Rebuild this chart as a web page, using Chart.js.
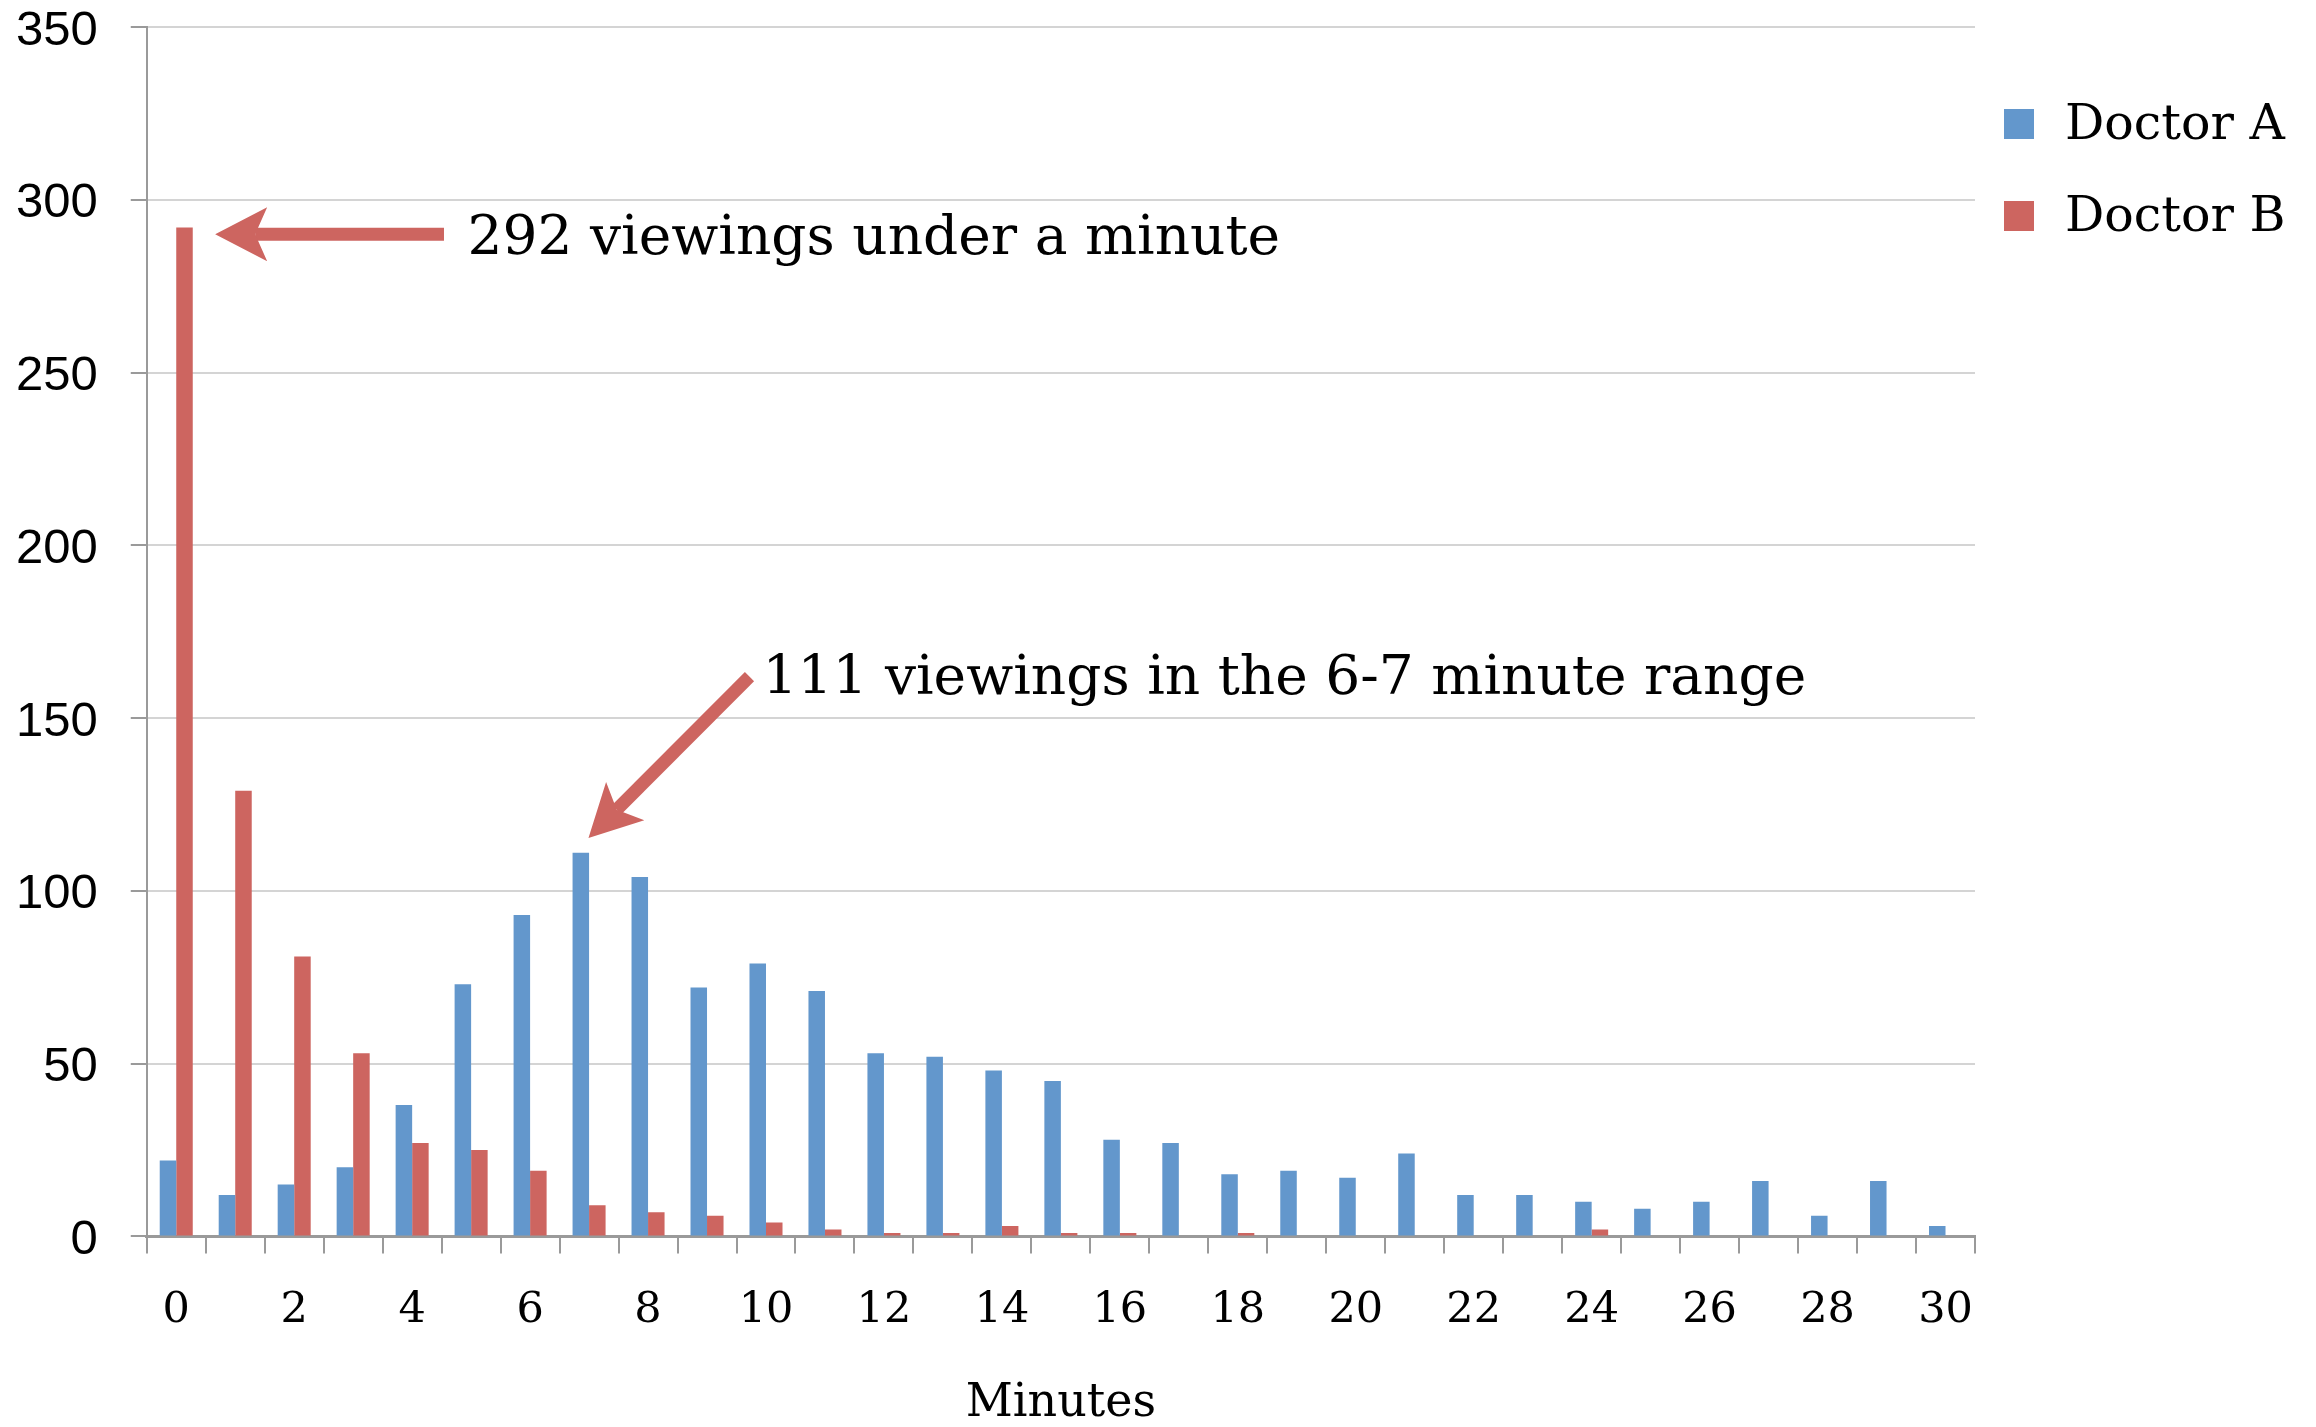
<!DOCTYPE html>
<html>
<head>
<meta charset="utf-8">
<script src="https://cdn.jsdelivr.net/npm/chart.js@4.4.1/dist/chart.umd.min.js"></script>
<style>
  html, body { margin: 0; padding: 0; background: #fff; }
</style>
</head>
<body>
<canvas id="idGrafica" width="2316" height="1427"></canvas>
<script>
// minutes 0..30, one bar pair per minute
var minutos = ['0','1','2','3','4','5','6','7','8','9','10','11','12','13','14','15',
               '16','17','18','19','20','21','22','23','24','25','26','27','28','29','30'];
var doctorA = [22, 12, 15, 20, 38, 73, 93, 111, 104, 72, 79, 71, 53, 52, 48, 45,
               28, 27, 18, 19, 17, 24, 12, 12, 10, 8, 10, 16, 6, 16, 3];
var doctorB = [292, 129, 81, 53, 27, 25, 19, 9, 7, 6, 4, 2, 1, 1, 3, 1,
               1, 0, 1, 0, 0, 0, 0, 0, 2, 0, 0, 0, 0, 0, 0];
var yTicks = [0, 50, 100, 150, 200, 250, 300, 350];

var colorA = '#6397cc';
var colorB = '#cd6560';
var serif = '"DejaVu Serif", serif';

// notes with arrows, in data units (x = category index, y = value)
var notas = [
    { text: '292 viewings under a minute', x: 4.94, y: 288.3, from: [4.54, 290], to: [0.66, 290] },
    { text: '111 viewings in the 6-7 minute range', x: 9.94, y: 161, from: [9.72, 162], to: [6.99, 115.3] }
];

function flecha(ctx, x1, y1, x2, y2) {
    var ang = Math.atan2(y2 - y1, x2 - x1);
    var c = Math.cos(ang), s = Math.sin(ang);
    var largo = 52, ancho = 27, muesca = 40;
    ctx.strokeStyle = colorB;
    ctx.fillStyle = colorB;
    ctx.lineWidth = 13;
    ctx.lineCap = 'butt';
    ctx.beginPath();
    ctx.moveTo(x1, y1);
    ctx.lineTo(x2 - c * muesca, y2 - s * muesca);
    ctx.stroke();
    ctx.beginPath();
    ctx.moveTo(x2, y2);
    ctx.lineTo(x2 - c * largo - s * ancho, y2 - s * largo + c * ancho);
    ctx.lineTo(x2 - c * muesca, y2 - s * muesca);
    ctx.lineTo(x2 - c * largo + s * ancho, y2 - s * largo - c * ancho);
    ctx.closePath();
    ctx.fill();
}

var notasPlugin = {
    id: 'notas',
    afterDatasetsDraw: function (chart) {
        var ctx = chart.ctx;
        var xs = chart.scales.x, ys = chart.scales.y;
        function px(v) { return xs.getPixelForValue(v); }
        ctx.save();
        notas.forEach(function (n) {
            flecha(ctx, px(n.from[0]), ys.getPixelForValue(n.from[1]),
                        px(n.to[0]), ys.getPixelForValue(n.to[1]));
            ctx.fillStyle = '#000';
            ctx.font = '55px ' + serif;
            ctx.textBaseline = 'middle';
            ctx.textAlign = 'left';
            ctx.fillText(n.text, px(n.x), ys.getPixelForValue(n.y));
        });
        ctx.restore();
    }
};

var leyendaPlugin = {
    id: 'leyenda',
    afterDraw: function (chart) {
        var ctx = chart.ctx;
        var x0 = chart.chartArea.right + 29;
        ctx.save();
        chart.data.datasets.forEach(function (ds, i) {
            var y = 124 + i * 92;
            ctx.fillStyle = ds.backgroundColor;
            ctx.fillRect(x0, y - 15, 30, 30);
            ctx.fillStyle = '#000';
            ctx.font = '49px ' + serif;
            ctx.textBaseline = 'middle';
            ctx.fillText(ds.label, x0 + 61, y + 2);
        });
        ctx.restore();
    }
};

var ctx = document.getElementById('idGrafica').getContext('2d');
var myChart = new Chart(ctx, {
    type: 'bar',
    data: {
        labels: minutos,
        datasets: [
            { label: 'Doctor A', data: doctorA, backgroundColor: colorA },
            { label: 'Doctor B', data: doctorB, backgroundColor: colorB }
        ]
    },
    options: {
        responsive: false,
        animation: false,
        devicePixelRatio: 1,
        categoryPercentage: 0.56,
        barPercentage: 1.0,
        layout: { padding: { left: -17, right: 341, top: 27, bottom: -9 } },
        plugins: {
            legend: { display: false },
            tooltip: { enabled: false }
        },
        scales: {
            x: {
                offset: true,
                grid: {
                    offset: true,
                    drawOnChartArea: false,
                    drawTicks: true,
                    tickLength: 17,
                    tickColor: '#9a9a9a',
                    lineWidth: 2
                },
                border: { display: true, color: '#9a9a9a', width: 3 },
                ticks: {
                    autoSkip: false,
                    maxRotation: 0,
                    padding: 32,
                    color: '#000',
                    font: { family: serif, size: 43 },
                    callback: function (v, i) { return i % 2 === 0 ? minutos[i] : ''; }
                },
                title: {
                    display: true,
                    text: 'Minutes',
                    color: '#000',
                    font: { family: serif, size: 46, lineHeight: 1.0 },
                    padding: { top: 12, bottom: 9 }
                }
            },
            y: {
                min: 0,
                max: 350,
                afterBuildTicks: function (axis) {
                    axis.ticks = yTicks.map(function (v) { return { value: v }; });
                },
                afterFit: function (axis) {
                    // let the plot reach the top edge like the original
                    axis.paddingTop = 0;
                    axis.paddingBottom = 0;
                },
                grid: {
                    color: '#d4d4d4',
                    lineWidth: 2,
                    tickLength: 16,
                    tickColor: '#9a9a9a'
                },
                border: { display: true, color: '#9a9a9a', width: 2 },
                ticks: {
                    padding: 33,
                    labelOffset: 4,
                    color: '#000',
                    font: { family: '"Liberation Sans", Arial, sans-serif', size: 49 }
                }
            }
        }
    },
    plugins: [notasPlugin, leyendaPlugin]
});
</script>
</body>
</html>
